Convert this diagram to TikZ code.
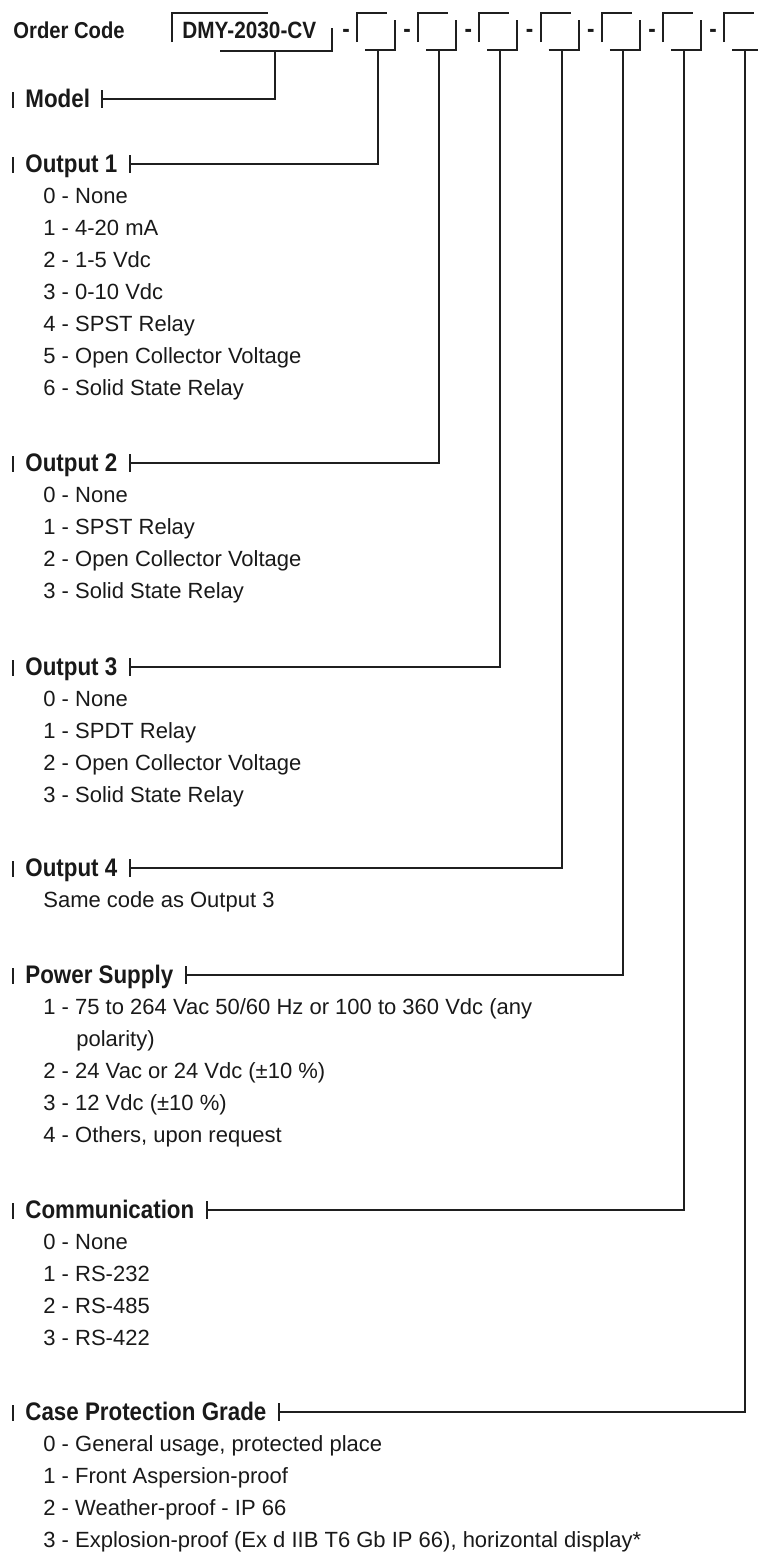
\documentclass[tikz,border=0pt]{standalone}
\usepackage{fontspec}
\setmainfont{Liberation Sans}
\newfontfamily\narrowsf{Liberation Sans}[FakeStretch=0.88]
\usetikzlibrary{calc}
\newcommand{\pitch}{61.2}
\tikzset{
  wire/.style={line width=1pt,draw=black!88},
  head/.style={inner sep=0pt,anchor=west,text height=8.6pt,text depth=0pt,text=black!90,font=\narrowsf\fontsize{12.7}{14}\selectfont\bfseries},
  item/.style={inner sep=0pt,anchor=west,text height=7.6pt,text depth=0pt,text=black!90,font=\fontsize{11}{13}\selectfont}
}
\begin{document}
\begin{tikzpicture}[x=0.5pt,y=-0.5pt]
\useasboundingbox (0,0) rectangle (758,1555);
% order code row
\node[head,text height=7.9pt,font=\narrowsf\fontsize{11.5}{13}\selectfont\bfseries] (code) at (13,31) {Order Code};
\node[head,text height=7.9pt,font=\narrowsf\fontsize{11.8}{13}\selectfont\bfseries] (dmy) at (182,31) {DMY-2030-CV};
\draw[wire] (172,42) |- (268,13);
\draw[wire] (220,51) -| (332,28);
\coordinate (c0) at (275,51);
\foreach \i in {1,...,7}{
\pgfmathsetmacro{\xl}{357+(\i-1)*\pitch}
\node[head,anchor=center] (dash\i) at (\xl-11,29) {-};
\draw[wire] (\xl,42) |- (\xl+30,13);
\draw[wire] (\xl+8,50) -| (\xl+38,20);
\coordinate (c\i) at (\xl+21,50);
}
% field headers
\foreach \i/\y/\t in {0/99/Model,1/164/Output 1,2/463/Output 2,3/667/Output 3,4/868/Output 4,5/975/Power Supply,6/1210/Communication,7/1412/Case Protection Grade}{
\node[head] (h\i) at (25,\y) {\t};
\coordinate (t\i) at ($(h\i.east)+(12,0)$);
\draw[wire,line width=1.2pt] (13,\y-7) -- (13,\y+9);
\draw[wire] ($(t\i)+(0,-9)$) -- ($(t\i)+(0,9)$);
\draw[wire] (c\i) |- (t\i);
}
% options
\foreach \t [count=\k] in {0 - None,1 - 4-20 mA,2 - 1-5 Vdc,3 - 0-10 Vdc,4 - SPST Relay,5 - Open Collector Voltage,6 - Solid State Relay}
\node[item] (a\k) at (43,164+32*\k) {\t};
\foreach \t [count=\k] in {0 - None,1 - SPST Relay,2 - Open Collector Voltage,3 - Solid State Relay}
\node[item] (b\k) at (43,463+32*\k) {\t};
\foreach \t [count=\k] in {0 - None,1 - SPDT Relay,2 - Open Collector Voltage,3 - Solid State Relay}
\node[item] (c\k) at (43,667+32*\k) {\t};
\node[item] (d1) at (43,900) {Same code as Output 3};
\node[item] (e1) at (43,1007) {1 - 75 to 264 Vac 50/60 Hz or 100 to 360 Vdc (any};
\node[item] (e2) at (76,1039) {polarity)};
\node[item] (e3) at (43,1071) {2 - 24 Vac or 24 Vdc (±10 \%)};
\node[item] (e4) at (43,1103) {3 - 12 Vdc (±10 \%)};
\node[item] (e5) at (43,1135) {4 - Others, upon request};
\foreach \t [count=\k] in {0 - None,1 - RS-232,2 - RS-485,3 - RS-422}
\node[item] (f\k) at (43,1210+32*\k) {\t};
\foreach \t [count=\k] in {{0 - General usage, protected place},1 - Front Aspersion-proof,2 - Weather-proof - IP 66,{3 - Explosion-proof (Ex d IIB T6 Gb IP 66), horizontal display*}}
\node[item] (g\k) at (43,1412+32*\k) {\t};
\end{tikzpicture}
\end{document}
